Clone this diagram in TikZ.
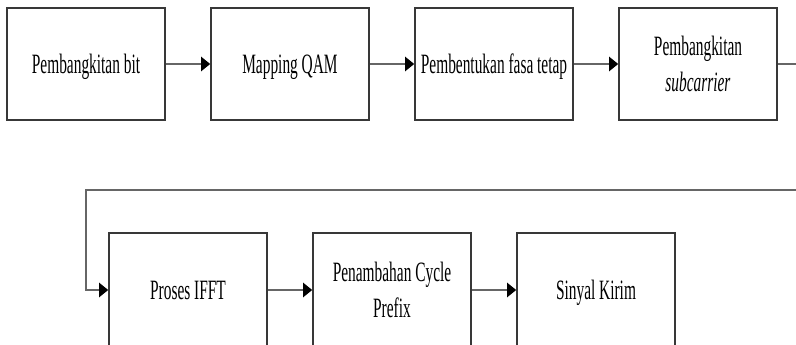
\documentclass[tikz,border=0pt]{standalone}
\usepackage{fontspec}
\setmainfont{Liberation Serif}[FakeStretch=0.55]
\usetikzlibrary{arrows.meta}
\definecolor{boxline}{HTML}{383838}
\definecolor{connline}{HTML}{666666}
\begin{document}
\begin{tikzpicture}[x=1pt,y=-1pt,line join=miter,
  blok/.style={draw=boxline, line width=1.6pt, fill=white,
    minimum width=158pt, minimum height=112pt, inner sep=0pt,
    align=center, font=\fontsize{28}{36}\selectfont},
  tallblok/.style={blok, minimum height=114pt},
  oneline/.style={text depth=0pt},
  conn/.style={draw=connline, line width=2.4pt,
    -{Triangle[length=9pt,width=14pt,color=black]}}]
\useasboundingbox (0,0) rectangle (796,345);
\clip (0,0) rectangle (796,345);

% first row of processing blocks
\node[blok,oneline] (b1) at (86,64)  {Pembangkitan bit};
\node[blok,oneline] (b2) at (290,64) {Mapping QAM};
\node[blok,oneline] (b3) at (494,64) {Pembentukan fasa tetap};
\node[blok]         (b4) at (698,64) {Pembangkitan\\\textit{subcarrier}};

% second row of processing blocks
\node[tallblok,oneline] (b5) at (188,290) {Proses IFFT};
\node[tallblok]         (b6) at (392,290) {Penambahan Cycle\\Prefix};
\node[tallblok,oneline] (b7) at (596,290) {Sinyal Kirim};

% bends of the line that wraps to the second row
\coordinate (rt) at (815,190);
\coordinate (lt) at (86,190);

\draw[conn] (b1) -- (b2);
\draw[conn] (b2) -- (b3);
\draw[conn] (b3) -- (b4);
\draw[conn] (b4.east) -| (rt) -- (lt) |- (b5.west);
\draw[conn] (b5) -- (b6);
\draw[conn] (b6) -- (b7);
\end{tikzpicture}
\end{document}
